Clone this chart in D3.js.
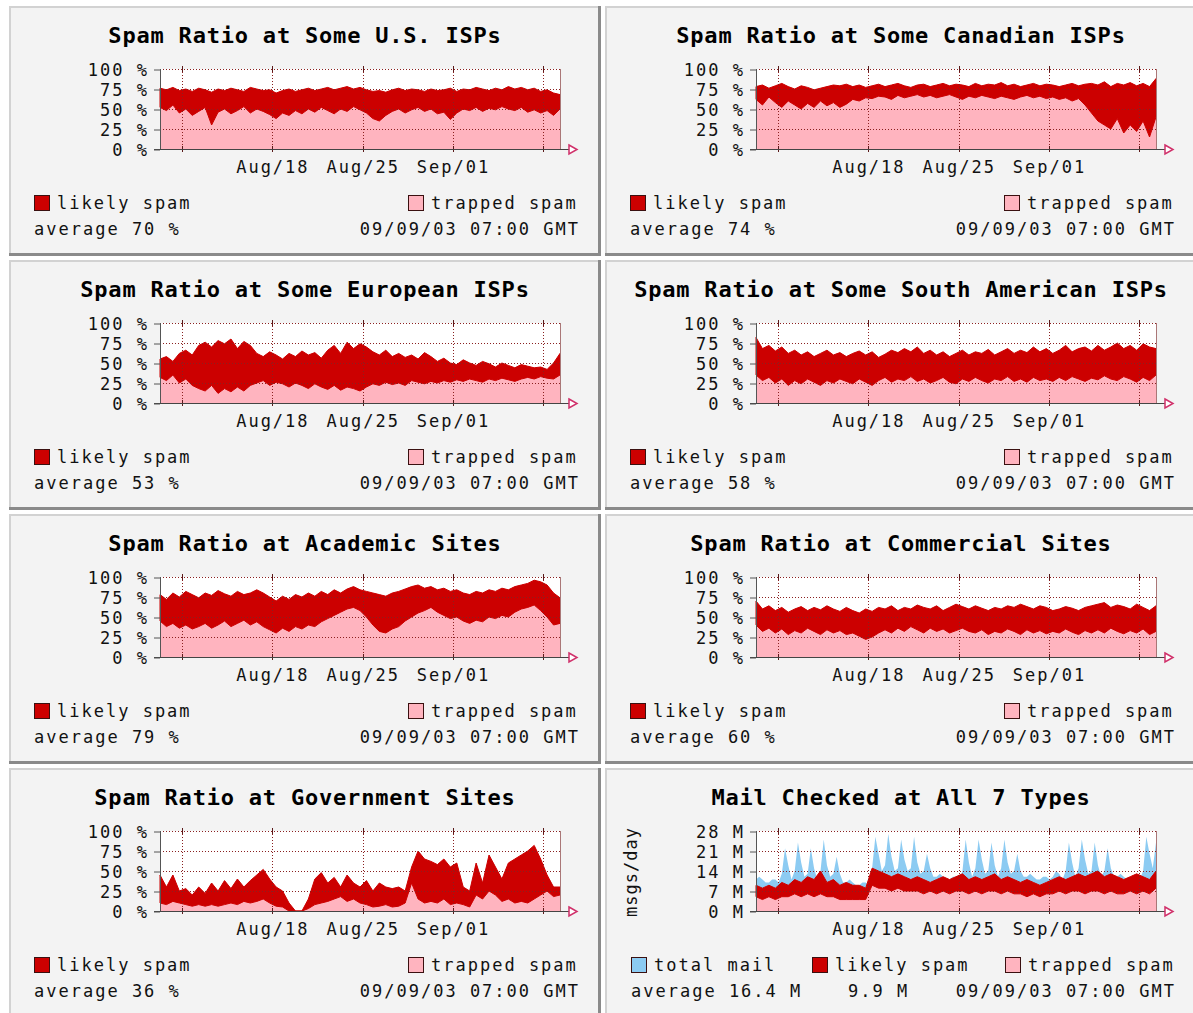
<!DOCTYPE html>
<html>
<head>
<meta charset="utf-8">
<script src="https://cdn.jsdelivr.net/npm/d3@7"></script>
<style>
body { margin: 0; background: #fff; }
svg text { font-family: "DejaVu Sans Mono", "Liberation Mono", monospace; fill: #111; }
</style>
</head>
<body>
<svg id="chart" width="1193" height="1013"></svg>
<script>
// time window of every graph: one month ending 09/09/03 07:00
const start = new Date(2003, 7, 9, 7);
const end = new Date(2003, 8, 9, 7);
const weekTicks = [new Date(2003, 7, 11), new Date(2003, 7, 18), new Date(2003, 7, 25), new Date(2003, 8, 1), new Date(2003, 8, 8)];
const weekLabels = ["", "Aug/18", "Aug/25", "Sep/01", ""];

const titles = [
    "Spam Ratio at Some U.S. ISPs", "Spam Ratio at Some Canadian ISPs",
    "Spam Ratio at Some European ISPs", "Spam Ratio at Some South American ISPs",
    "Spam Ratio at Academic Sites", "Spam Ratio at Commercial Sites",
    "Spam Ratio at Government Sites", "Mail Checked at All 7 Types"
];
const averages = ["average 70 %", "average 74 %", "average 53 %", "average 58 %", "average 79 %", "average 60 %", "average 36 %", "average 16.4 M"];
const spamAverageMail = "9.9 M";
const stamp = "09/09/03 07:00 GMT";

// likely spam band (upper / lower edge), one value every 12 hours, in %
const usHi = [76,74,77,73,75,72,76,74,71,75,73,76,74,72,77,75,73,74,70,73,75,72,74,76,73,75,77,74,76,78,75,77,74,72,73,71,74,76,73,75,74,72,75,73,74,76,72,75,74,77,75,73,76,74,78,75,77,74,76,72,74,70,68];
const usLo = [52,48,55,45,50,42,47,52,30,46,50,44,48,53,45,50,47,43,38,45,42,48,44,50,46,52,48,44,50,47,53,49,45,38,35,42,47,50,45,49,52,47,50,44,46,37,45,50,48,52,47,51,49,53,50,48,52,46,49,45,48,42,50];
const caHi = [78,80,76,79,82,78,75,79,77,74,76,78,80,79,81,78,80,77,79,81,78,80,82,79,77,80,81,78,80,82,79,81,80,78,82,79,81,80,83,79,81,78,80,82,79,81,80,78,80,82,79,81,82,80,84,78,82,80,83,79,82,78,88];
const caLo = [62,55,65,58,52,60,55,50,57,52,60,54,58,52,56,62,60,64,63,66,65,62,67,64,66,68,65,67,64,66,68,65,62,66,64,67,65,63,66,64,62,65,67,64,66,63,65,62,64,60,63,55,45,35,30,25,38,20,30,22,35,15,40];
const euHi = [55,58,52,62,66,60,72,76,70,78,74,80,68,77,72,62,58,64,60,55,62,58,65,60,63,56,66,72,62,76,68,74,70,64,60,66,58,62,57,60,55,63,58,52,56,50,48,54,50,47,52,49,45,50,47,44,48,46,44,45,42,50,62];
const euLo = [32,28,35,25,30,22,18,15,22,12,18,14,20,15,22,25,28,22,26,24,20,25,22,18,24,20,17,22,16,20,18,15,20,24,22,26,23,25,22,28,26,24,27,25,28,26,29,27,30,28,26,30,28,31,29,27,30,32,30,33,31,30,35];
const saHi = [82,68,72,65,70,62,66,60,64,58,62,66,60,63,58,62,65,60,64,57,61,66,63,68,64,70,62,66,60,64,58,62,66,60,64,62,67,60,64,68,62,66,63,70,64,68,62,66,72,64,68,70,65,72,66,70,75,68,72,66,74,70,68];
const saLo = [35,28,32,25,30,22,28,24,30,26,22,28,25,30,27,24,30,26,22,28,32,26,30,28,33,27,30,25,28,32,26,24,30,27,32,28,25,30,28,33,27,30,26,32,28,30,27,32,28,33,30,27,31,29,34,30,28,33,30,26,32,28,35];
const acHi = [78,72,80,75,82,78,74,80,77,83,79,76,82,78,80,84,80,75,70,76,72,78,75,80,76,82,78,84,80,85,88,84,82,80,78,76,80,82,85,88,90,86,88,84,86,82,84,80,78,82,80,84,82,86,84,88,90,92,96,94,90,80,74];
const acLo = [45,38,42,36,40,35,38,42,36,40,45,38,42,46,40,44,38,34,30,36,32,38,35,40,38,44,48,52,56,60,62,58,50,40,32,30,35,38,45,50,55,58,62,56,52,48,50,45,42,46,44,50,48,52,50,56,60,62,65,58,50,40,42];
const coHi = [70,60,64,58,62,56,60,63,58,62,59,64,60,57,62,58,55,60,57,62,60,64,58,62,60,65,62,60,64,58,62,66,63,60,64,61,58,62,60,64,62,66,63,60,64,62,58,60,63,61,58,62,64,66,68,62,65,63,60,66,62,58,64];
const coLo = [40,32,36,30,35,28,33,30,36,32,28,34,30,33,28,30,26,22,25,30,34,30,36,32,38,34,30,36,32,35,30,33,36,32,30,34,28,32,30,35,32,28,34,30,33,29,32,30,35,31,28,33,30,34,30,36,32,29,33,30,35,28,32];
const govHi = [45,30,45,25,28,20,30,22,35,25,38,28,40,30,38,45,52,40,30,25,10,0,0,15,40,48,35,42,30,45,35,30,38,25,35,30,28,30,25,55,75,65,62,58,65,55,60,30,25,60,35,70,55,40,60,65,70,75,82,65,45,30,30];
const govLo = [10,8,12,10,8,6,8,6,8,6,8,10,8,12,10,12,15,10,6,5,0,0,0,3,8,10,12,15,18,12,15,10,8,5,6,8,5,6,10,35,15,10,12,10,15,8,10,8,5,20,15,25,20,12,15,10,12,10,15,20,25,18,20];
// mail panel, millions of messages per day
const mailHi = [9,8,9,8,10,9,11,10,12,11,14,10,11,9,10,9,9,8,15,14,13,12,13,12,11,12,11,10,11,12,11,12,13,11,12,11,12,13,11,12,11,10,11,10,9,10,11,12,11,12,13,12,13,14,12,13,12,11,12,13,12,11,14];
const mailLo = [5,4,5,4,5,5,6,5,6,5,6,5,5,4,4,4,4,4,9,8,8,7,8,7,7,7,6,7,6,7,6,7,7,6,7,6,7,7,6,7,6,6,5,6,5,6,6,7,6,7,7,6,7,7,6,7,6,6,7,6,7,6,8];
// total mail, one value every 6 hours
const mailTotal = [11,12,11,10, 10,11,11,10, 13,22,16,11, 14,24,17,12, 13,22,15,11, 14,25,16,12, 13,19,13,10, 10,11,10,9,
    9,10,10,9, 15,26,20,14, 16,27,19,14, 15,25,18,14, 15,26,17,13, 14,20,15,12, 12,13,12,11, 11,12,12,11,
    14,25,17,12, 15,25,18,13, 14,24,16,12, 15,25,17,13, 14,20,14,12, 12,13,12,11, 11,12,12,11, 12,14,13,11,
    14,24,17,12, 15,25,18,13, 14,24,16,12, 14,22,15,12, 12,13,12,11, 11,12,12,11, 14,26,20,15, 24];

const bandHi = [usHi, caHi, euHi, saHi, acHi, coHi, govHi, mailHi];
const bandLo = [usLo, caLo, euLo, saLo, acLo, coLo, govLo, mailLo];

const red = "#cc0000", pink = "#ffb4bf", blue = "#8ccbf2", gridCol = "#8a2020";

const svg = d3.select("#chart");
const panelW = 592, panelH = 250;
const colX = [9, 605], rowY = [6, 260, 514, 768];
const plotL = 151, plotR = 551, plotT = 63, plotB = 143;

const x = d3.scaleTime().domain([start, end]).range([plotL, plotR]);

function txt(g, s, px, py, anchor) {
    return g.append("text")
        .attr("x", px).attr("y", py)
        .attr("text-anchor", anchor || "start")
        .style("font-size", "17px")
        .style("letter-spacing", "2px")
        .text(s);
}

titles.forEach((title, k) => {
    let isMail = k === 7;
    let g = svg.append("g")
        .attr("transform", `translate(${colX[k % 2]},${rowY[Math.floor(k / 2)]})`);

    // panel box with a raised border
    g.append("rect").attr("width", panelW).attr("height", panelH).attr("fill", "#f3f3f3");
    g.append("path").attr("d", `M1,${panelH} V1 H${panelW}`)
        .attr("fill", "none").attr("stroke", "#d2d2d2").attr("stroke-width", 2);
    g.append("path").attr("d", `M${panelW - 1.5},0 V${panelH - 1.5} H0`)
        .attr("fill", "none").attr("stroke", "#8a8a8a").attr("stroke-width", 3);

    g.append("text")
        .attr("x", panelW / 2).attr("y", 37)
        .attr("text-anchor", "middle")
        .style("font-size", "22px").style("font-weight", "bold").style("letter-spacing", "0.8px")
        .style("fill", "#000")
        .text(title);

    let yMax = isMail ? 28 : 100;
    let yTicks = isMail ? [0, 7, 14, 21, 28] : [0, 25, 50, 75, 100];
    let y = d3.scaleLinear().domain([0, yMax]).range([plotB, plotT]);

    g.append("rect").attr("x", plotL).attr("y", plotT)
        .attr("width", plotR - plotL).attr("height", plotB - plotT).attr("fill", "#fff");

    let hi = bandHi[k], lo = bandLo[k];
    let rows = hi.map((v, i) => ({t: d3.timeHour.offset(start, 12 * i), hi: v, lo: lo[i]}));

    if (isMail) {
        let totalRows = mailTotal.map((v, i) => ({t: d3.timeHour.offset(start, 6 * i), v: v}));
        g.append("path")
            .attr("d", d3.area().x(d => x(d.t)).y0(y(0)).y1(d => y(d.v))(totalRows))
            .attr("fill", blue);
    }

    // trapped spam area
    g.append("path")
        .attr("d", d3.area().x(d => x(d.t)).y0(y(0)).y1(d => y(d.hi))(rows))
        .attr("fill", pink);

    // likely spam band
    g.append("path")
        .attr("d", d3.area().x(d => x(d.t)).y0(d => y(d.lo)).y1(d => y(d.hi))(rows))
        .attr("fill", red).attr("stroke", red).attr("stroke-width", 1);

    // grid
    g.append("g").selectAll("line").data(yTicks.slice(1)).join("line")
        .attr("x1", plotL).attr("x2", plotR)
        .attr("y1", d => y(d) + 0.5).attr("y2", d => y(d) + 0.5)
        .attr("stroke", gridCol).attr("stroke-dasharray", "1,2");
    g.append("g").selectAll("line").data(weekTicks).join("line")
        .attr("x1", d => Math.round(x(d)) + 0.5).attr("x2", d => Math.round(x(d)) + 0.5)
        .attr("y1", plotT).attr("y2", plotB)
        .attr("stroke", gridCol).attr("stroke-dasharray", "1,2");
    // week tick crosses at top and bottom
    g.append("g").selectAll("path").data(weekTicks).join("path")
        .attr("d", d => {
            let px = Math.round(x(d)) + 0.5;
            return `M${px},${plotT - 3}V${plotT + 3}M${px},${plotB - 3}V${plotB + 3}`;
        })
        .attr("stroke", "#5a1a1a");

    // frame: left axis, right edge, baseline with arrow
    g.append("line").attr("x1", plotL + 0.5).attr("x2", plotL + 0.5)
        .attr("y1", plotT).attr("y2", plotB).attr("stroke", "#555");
    g.append("line").attr("x1", plotR + 0.5).attr("x2", plotR + 0.5)
        .attr("y1", plotT).attr("y2", plotB).attr("stroke", "#a77");
    g.append("line").attr("x1", plotL - 6).attr("x2", plotR + 9)
        .attr("y1", plotB + 0.5).attr("y2", plotB + 0.5).attr("stroke", "#444");
    g.append("path")
        .attr("d", `M${plotR + 9},${plotB - 4} L${plotR + 17},${plotB + 0.5} L${plotR + 9},${plotB + 5} Z`)
        .attr("fill", "#fff").attr("stroke", "#d0306a").attr("stroke-width", 1.5);

    // y axis labels
    let yAxis = g.append("g")
        .attr("transform", `translate(${plotL},0.5)`)
        .call(d3.axisLeft(y).tickValues(yTicks).tickSize(6).tickPadding(5)
            .tickFormat(d => d + (isMail ? " M" : " %")));
    yAxis.select(".domain").remove();
    yAxis.selectAll("line").attr("stroke", "#555");
    yAxis.selectAll("text")
        .attr("font-family", null)
        .style("font-size", "17px").style("letter-spacing", "2px")
        .attr("dy", "0.36em");

    // x axis labels
    let xAxis = g.append("g")
        .attr("transform", `translate(0,${plotB})`)
        .call(d3.axisBottom(x).tickValues(weekTicks).tickSize(0).tickPadding(12)
            .tickFormat((d, i) => weekLabels[i]));
    xAxis.select(".domain").remove();
    xAxis.selectAll("text")
        .attr("font-family", null)
        .style("font-size", "17px").style("letter-spacing", "2px");

    // legend
    let legend = isMail
        ? [[26, blue, "total mail"], [207, red, "likely spam"], [400, pink, "trapped spam"]]
        : [[25, red, "likely spam"], [399, pink, "trapped spam"]];
    legend.forEach(([lx, col, label]) => {
        g.append("rect").attr("x", lx + 0.5).attr("y", 189.5)
            .attr("width", 15).attr("height", 15)
            .attr("fill", col).attr("stroke", "#3a1010");
        txt(g, label, lx + 23, 203);
    });

    txt(g, averages[k], isMail ? 26 : 25, 229);
    if (isMail) {
        txt(g, spamAverageMail, 243, 229);
        g.append("text")
            .attr("transform", `translate(32,104) rotate(-90)`)
            .attr("text-anchor", "middle")
            .style("font-size", "17px").style("letter-spacing", "1px")
            .text("msgs/day");
    }
    txt(g, stamp, 571, 229, "end");
});
</script>
</body>
</html>
